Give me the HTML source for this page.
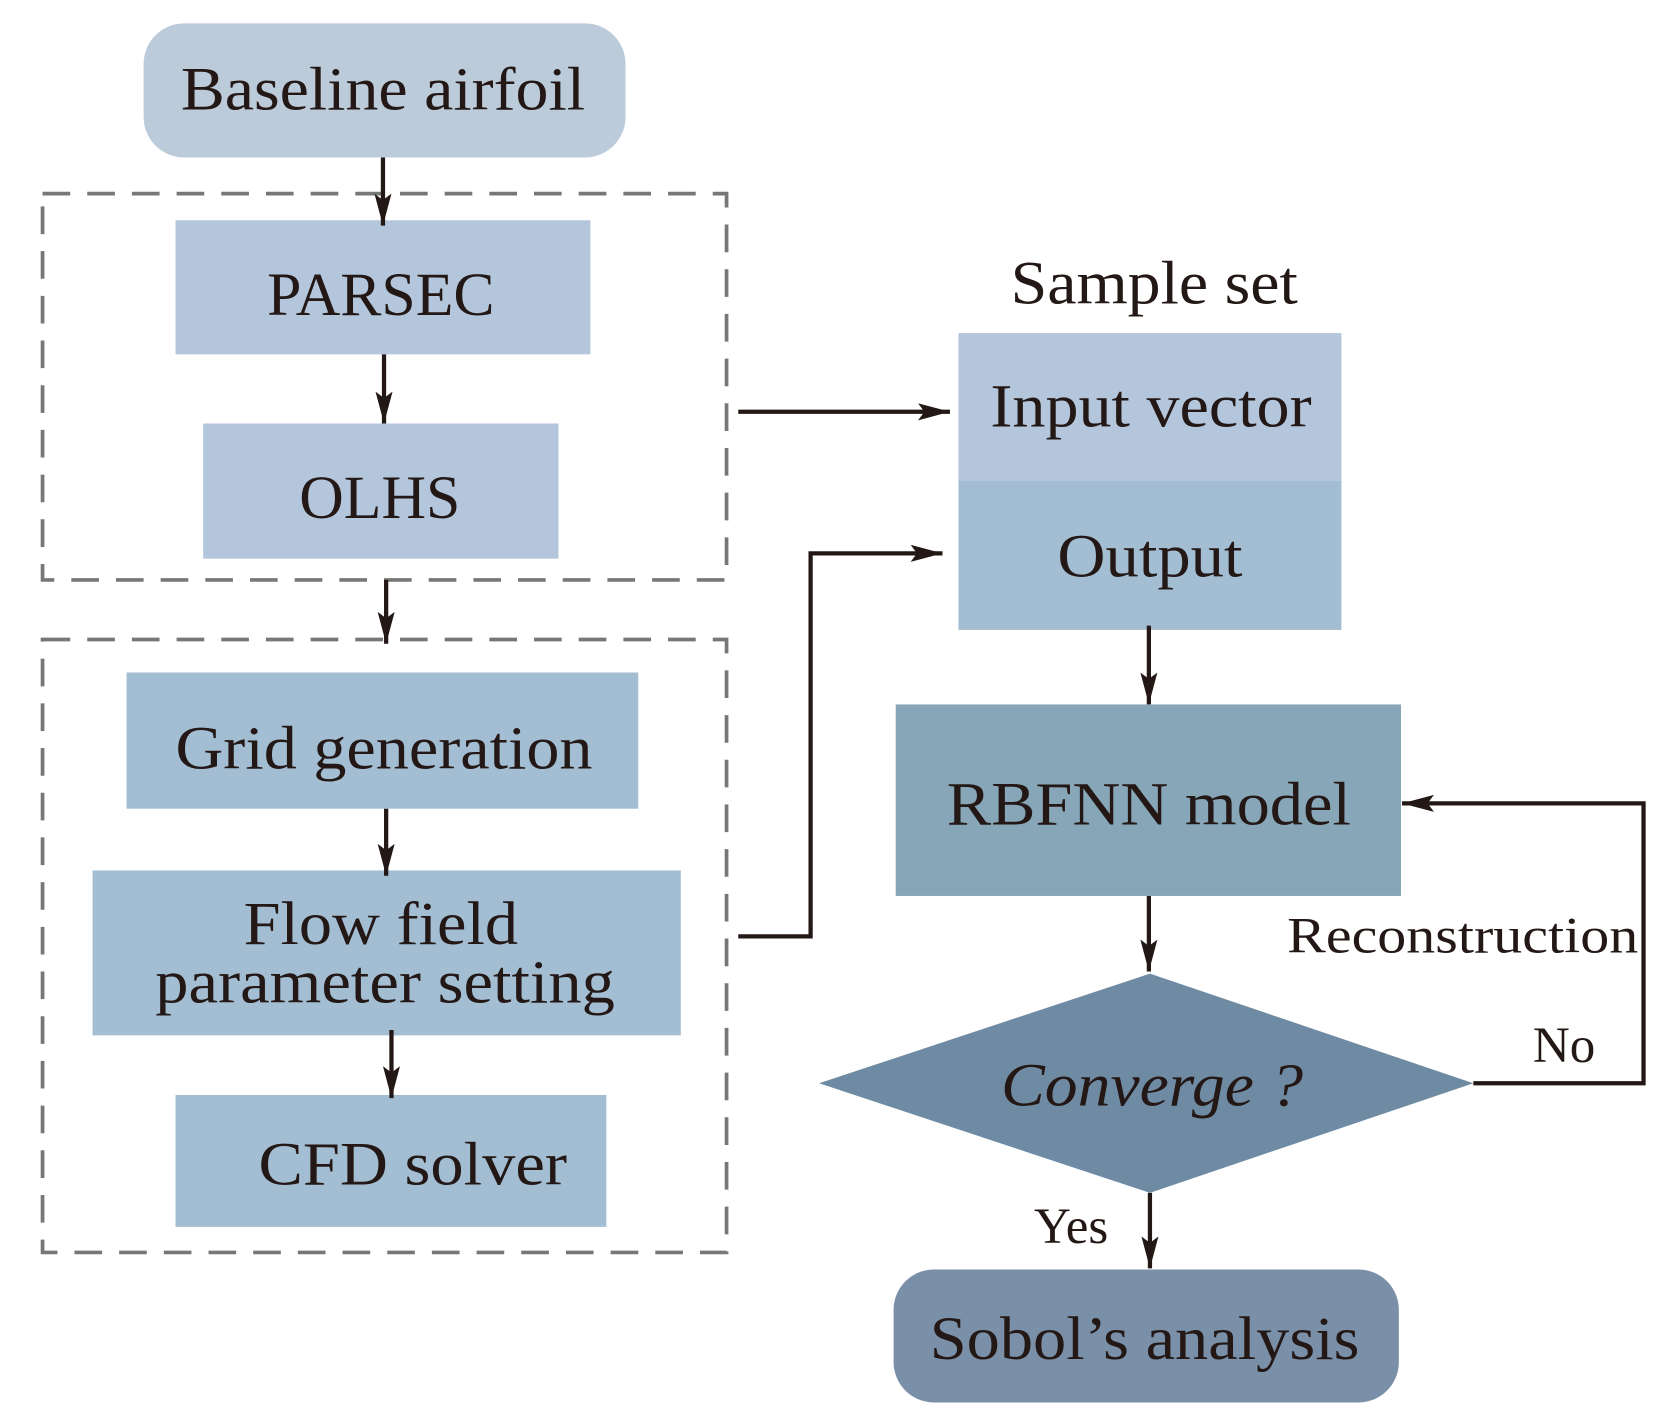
<!DOCTYPE html>
<html><head><meta charset="utf-8"><style>html,body{margin:0;padding:0;background:#fff}svg{display:block}</style></head><body>
<svg width="1668" height="1428" viewBox="0 0 1568 1342" preserveAspectRatio="none" xmlns="http://www.w3.org/2000/svg" font-family="'Liberation Serif',serif" fill="#231815">
<defs><marker id="b" markerWidth="30" markerHeight="16" refX="30" refY="8" orient="auto" markerUnits="userSpaceOnUse"><path d="M0,0 L30,8 L0,16 L6,8 z" fill="#231815"/></marker></defs>
<g fill="none" stroke="#777" stroke-width="3.5" stroke-dasharray="26,16">
<rect x="40" y="182" width="643" height="363"/>
<rect x="40" y="601" width="643" height="576"/>
</g>
<rect x="135" y="22" width="453" height="126" rx="38" fill="#bccbd9"/>
<rect x="165" y="207" width="390" height="126" fill="#b3c6dc"/>
<rect x="191" y="398" width="334" height="127" fill="#b3c6dc"/>
<rect x="119" y="632" width="481" height="128" fill="#a3bed3"/>
<rect x="87" y="818" width="553" height="155" fill="#a3bed3"/>
<rect x="165" y="1029" width="405" height="124" fill="#a3bed3"/>
<rect x="901" y="313" width="360" height="139" fill="#b3c6dc"/>
<rect x="901" y="452" width="360" height="140" fill="#a3bed3"/>
<rect x="842" y="662" width="475" height="180" fill="#87a7b8"/>
<polygon points="770,1018 1081,915 1385,1018 1081,1121" fill="#6f8ba3"/>
<rect x="840" y="1193" width="475" height="125" rx="38" fill="#7a90a8"/>
<g stroke="#231815" stroke-width="4" fill="none" marker-end="url(#b)">
<line x1="360" y1="148" x2="360" y2="212"/>
<line x1="361" y1="333" x2="361" y2="398"/>
<line x1="363" y1="545" x2="363" y2="605"/>
<line x1="363" y1="760" x2="363" y2="823"/>
<line x1="368" y1="968" x2="368" y2="1032"/>
<line x1="694" y1="387" x2="893" y2="387"/>
<polyline points="694,880 762,880 762,520 886,520"/>
<line x1="1080" y1="588" x2="1080" y2="662"/>
<line x1="1080" y1="842" x2="1080" y2="913"/>
<line x1="1081" y1="1121" x2="1081" y2="1192"/>
<polyline points="1385,1018 1545,1018 1545,755 1318,755"/>
</g>
<g text-anchor="middle" font-size="58">
<text x="360" y="103" textLength="380" lengthAdjust="spacingAndGlyphs">Baseline airfoil</text>
<text x="358" y="296">PARSEC</text>
<text x="357" y="487">OLHS</text>
<text x="361" y="722" textLength="392" lengthAdjust="spacingAndGlyphs">Grid generation</text>
<text x="358" y="887" textLength="258" lengthAdjust="spacingAndGlyphs">Flow field</text>
<text x="362" y="942" textLength="432" lengthAdjust="spacingAndGlyphs">parameter setting</text>
<text x="388" y="1113" textLength="290" lengthAdjust="spacingAndGlyphs">CFD solver</text>
<text x="1085" y="285" textLength="270" lengthAdjust="spacingAndGlyphs">Sample set</text>
<text x="1082" y="401" textLength="302" lengthAdjust="spacingAndGlyphs">Input vector</text>
<text x="1081" y="542" textLength="174" lengthAdjust="spacingAndGlyphs">Output</text>
<text x="1080" y="775" textLength="380" lengthAdjust="spacingAndGlyphs">RBFNN model</text>
<text x="1083" y="1039" font-style="italic" textLength="284" lengthAdjust="spacingAndGlyphs">Converge ?</text>
<text x="1076" y="1277" textLength="404" lengthAdjust="spacingAndGlyphs">Sobol’s analysis</text>
</g>
<g font-size="48">
<text x="1210" y="895" textLength="330" lengthAdjust="spacingAndGlyphs">Reconstruction</text>
<text x="1441" y="998">No</text>
<text x="972" y="1168">Yes</text>
</g>
</svg>
</body></html>
